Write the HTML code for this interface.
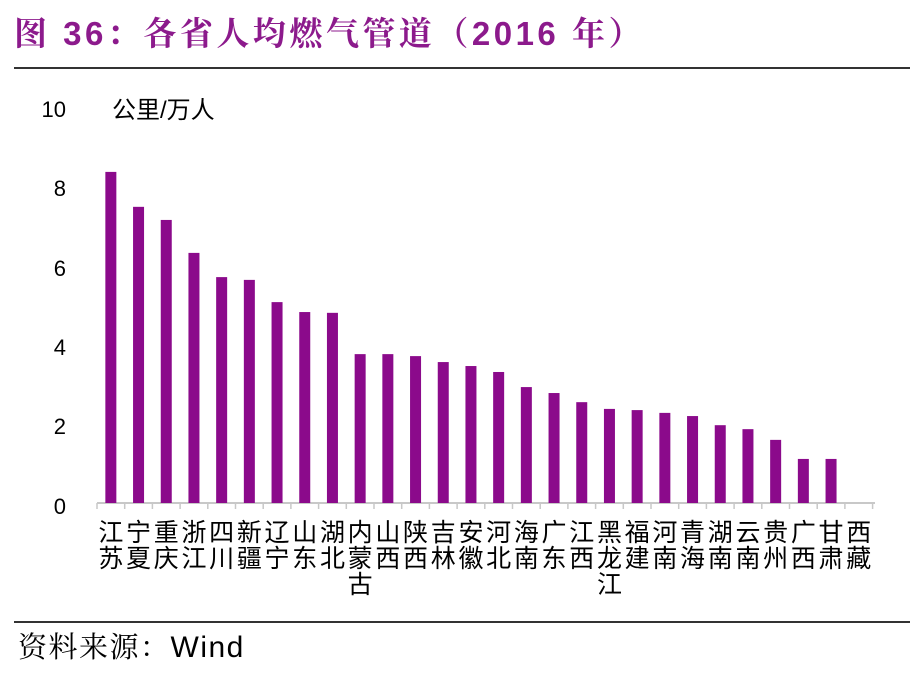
<!DOCTYPE html>
<html><head><meta charset="utf-8">
<style>
body{margin:0;background:#fff;width:924px;height:684px;overflow:hidden}
svg{display:block}
</style></head>
<body>
<svg id="c" width="924" height="684" xmlns="http://www.w3.org/2000/svg" font-family="'Liberation Sans','Noto Sans CJK SC',sans-serif">
<text x="14" y="45" font-size="33" font-weight="bold" letter-spacing="3.5" fill="#8c1a8c" font-family="'Liberation Sans','Noto Serif CJK SC',serif">图 36：各省人均燃气管道（2016 年）</text>
<line x1="14" y1="68" x2="910" y2="68" stroke="#333" stroke-width="2"/>
<line x1="14" y1="622" x2="910" y2="622" stroke="#333" stroke-width="2"/>
<text x="18" y="657" font-size="29" fill="#000" letter-spacing="1.5" font-family="'Liberation Sans','Noto Serif CJK SC',serif">资料来源：<tspan font-family="'Liberation Sans',sans-serif" font-size="30">Wind</tspan></text>
<text x="112" y="118" font-size="24" fill="#000">公里/万人</text>
<g font-size="22" fill="#000" text-anchor="end">
<text x="66" y="117">10</text>
<text x="66" y="196">8</text>
<text x="66" y="276">6</text>
<text x="66" y="355">4</text>
<text x="66" y="434">2</text>
<text x="66" y="514">0</text>
</g>
<g id="g"></g>
</svg>
<script>
var names=["江苏","宁夏","重庆","浙江","四川","新疆","辽宁","山东","湖北","内蒙古","山西","陕西","吉林","安徽","河北","海南","广东","江西","黑龙江","福建","河南","青海","湖南","云南","贵州","广西","甘肃","西藏"];
var vals=[8.34,7.46,7.13,6.30,5.69,5.62,5.06,4.81,4.79,3.75,3.75,3.70,3.55,3.45,3.30,2.92,2.77,2.54,2.37,2.34,2.27,2.19,1.96,1.86,1.59,1.11,1.11,0];
var s='';var x0=97,w=27.7,y0=503,k=39.7;
s+='<line x1="97" y1="503" x2="875" y2="503" stroke="#c8c8c8" stroke-width="2"/>';
for(var i=0;i<=28;i++){var tx=x0+i*w;s+='<line x1="'+tx+'" y1="503" x2="'+tx+'" y2="509" stroke="#c8c8c8" stroke-width="1.5"/>';}
for(var i=0;i<28;i++){var cx=x0+(i+0.5)*w;var h=vals[i]*k;
if(h>0)s+='<rect x="'+(cx-5.5)+'" y="'+(y0-h)+'" width="11" height="'+h+'" fill="#8b0a8b"/>';
var n=names[i];for(var j=0;j<n.length;j++){s+='<text x="'+cx+'" y="'+(541+j*26)+'" font-size="25" text-anchor="middle" fill="#000">'+n[j]+'</text>';}}
document.getElementById('g').innerHTML=s;
</script>
</body></html>
